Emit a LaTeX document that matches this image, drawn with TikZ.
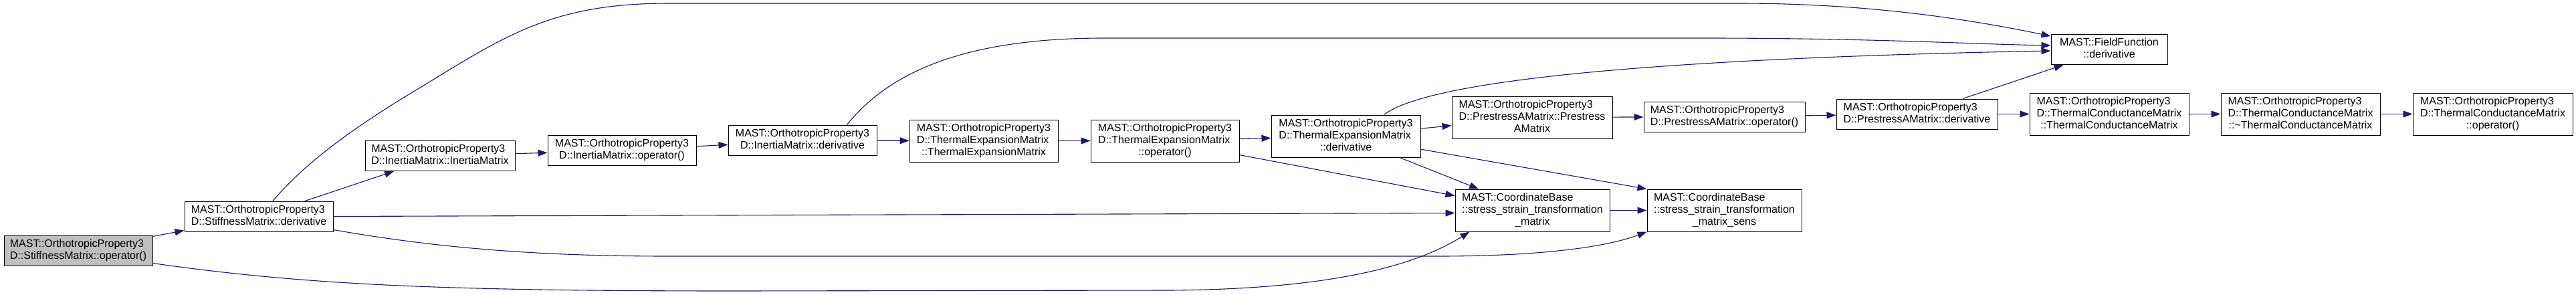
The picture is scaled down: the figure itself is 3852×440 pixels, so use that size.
\documentclass[tikz,border=0pt]{standalone}
\usepackage{fontspec}
\setmainfont{Liberation Sans}
\usetikzlibrary{arrows.meta}
\definecolor{EdgeBlue}{RGB}{25,25,112}
\definecolor{RootGray}{RGB}{191,191,191}
% all lines but the last flush left, last one centred
\newcommand{\fnlabel}[2]{\begin{tabular}{@{}l@{}}#1\\\multicolumn{1}{@{}c@{}}{#2}\end{tabular}}
\tikzset{
  fn/.style={draw=black, fill=white, line width=1pt, inner xsep=8pt, inner ysep=4.5pt,
             minimum height=45pt, font=\fontsize{16}{18}\selectfont},
  root/.style={fn, fill=RootGray},
  call/.style={draw=EdgeBlue, line width=1.1pt, -{Triangle[length=14pt,width=10pt]}}
}

\begin{document}
\begin{tikzpicture}[x=1pt, y=-1pt]
      \path[use as bounding box, fill=white] (0,0) rectangle (3852,440);

      % caller and first level
      \node[root, minimum width=222pt] (op) at (117,374.5)
            {\fnlabel{MAST::OrthotropicProperty3}{D::StiffnessMatrix::operator()}};
      \node[fn, minimum width=222pt] (smd) at (387,323.5)
            {\fnlabel{MAST::OrthotropicProperty3}{D::StiffnessMatrix::derivative}};

      % inertia matrix chain
      \node[fn, minimum width=224pt] (imc) at (658,233)
            {\fnlabel{MAST::OrthotropicProperty3}{D::InertiaMatrix::InertiaMatrix}};
      \node[fn, minimum width=222pt] (imo) at (930,225)
            {\fnlabel{MAST::OrthotropicProperty3}{D::InertiaMatrix::operator()}};
      \node[fn, minimum width=222pt] (imd) at (1200,210)
            {\fnlabel{MAST::OrthotropicProperty3}{D::InertiaMatrix::derivative}};

      % thermal expansion chain
      \node[fn, minimum width=222pt] (tec) at (1471,210.5)
            {\fnlabel{MAST::OrthotropicProperty3\\D::ThermalExpansionMatrix}{::ThermalExpansionMatrix}};
      \node[fn, minimum width=222pt] (teo) at (1742,210.5)
            {\fnlabel{MAST::OrthotropicProperty3\\D::ThermalExpansionMatrix}{::operator()}};
      \node[fn, minimum width=223pt] (ted) at (2012.5,203.5)
            {\fnlabel{MAST::OrthotropicProperty3\\D::ThermalExpansionMatrix}{::derivative}};

      % prestress chain
      \node[fn, minimum width=240pt] (pac) at (2291,175.5)
            {\fnlabel{MAST::OrthotropicProperty3\\D::PrestressAMatrix::Prestress}{AMatrix}};
      \node[fn, minimum width=241pt] (pao) at (2578.5,174.5)
            {\fnlabel{MAST::OrthotropicProperty3}{D::PrestressAMatrix::operator()}};
      \node[fn, minimum width=241pt] (pad) at (2866.5,170.5)
            {\fnlabel{MAST::OrthotropicProperty3}{D::PrestressAMatrix::derivative}};

      % field function
      \node[fn, minimum width=174pt] (ff) at (3154,74)
            {\fnlabel{MAST::FieldFunction}{::derivative}};

      % thermal conductance chain
      \node[fn, minimum width=238pt] (tcc) at (3154,170.5)
            {\fnlabel{MAST::OrthotropicProperty3\\D::ThermalConductanceMatrix}{::ThermalConductanceMatrix}};
      \node[fn, minimum width=238pt] (tcd) at (3440,170.5)
            {\fnlabel{MAST::OrthotropicProperty3\\D::ThermalConductanceMatrix}{::\textasciitilde ThermalConductanceMatrix}};
      \node[fn, minimum width=239pt] (tco) at (3727.5,170.5)
            {\fnlabel{MAST::OrthotropicProperty3\\D::ThermalConductanceMatrix}{::operator()}};

      % coordinate base
      \node[fn, minimum width=231pt] (cbm) at (2291.5,314.5)
            {\fnlabel{MAST::CoordinateBase\\::stress\_strain\_transformation}{\_matrix}};
      \node[fn, minimum width=231pt] (cbs) at (2578.5,314.5)
            {\fnlabel{MAST::CoordinateBase\\::stress\_strain\_transformation}{\_matrix\_sens}};

      % straight calls
      \draw[call] (op) -- (smd);
      \draw[call] (smd) -- (imc);
      \draw[call] (imc) -- (imo);
      \draw[call] (imo) -- (imd);
      \draw[call] (imd) -- (tec);
      \draw[call] (tec) -- (teo);
      \draw[call] (teo) -- (ted);
      \draw[call] (ted) -- (pac);
      \draw[call] (pac) -- (pao);
      \draw[call] (pao) -- (pad);
      \draw[call] (pad) -- (tcc);
      \draw[call] (tcc) -- (tcd);
      \draw[call] (tcd) -- (tco);
      \draw[call] (pad) -- (ff);
      \draw[call] (cbm) -- (cbs);
      \draw[call] (teo) -- (cbm);
      \draw[call] (ted) -- (cbm);
      \draw[call] (ted) -- (cbs.north west);
      \draw[call] (smd.east) -- ([yshift=-4pt]cbm.west);

      % long calls into the field function
      \draw[call] ([xshift=21pt]smd.north) .. controls (450,250) and (520,195) .. (630,130)
            .. controls (760,50) and (830,5) .. (1000,5) -- (2600,5)
            .. controls (2800,5) and (2950,30) .. ([yshift=20pt]ff.west);
      \draw[call] ([xshift=66pt]imd.north) .. controls (1320,120) and (1420,57) .. (1650,57)
            -- (2550,57) .. controls (2800,57) and (2950,66) .. ([yshift=6pt]ff.west);
      \draw[call] ([xshift=57pt]ted.north) .. controls (2150,110) and (2600,85) .. ([yshift=-2pt]ff.west);

      % long calls along the bottom
      \draw[call] ([yshift=-20pt]smd.east) .. controls (650,370) and (800,383) .. (1000,383)
            -- (2150,383) .. controls (2300,383) and (2400,370) .. (cbs.south west);
      \draw[call] ([yshift=-19pt]op.east) .. controls (450,425) and (650,435) .. (1100,435)
            -- (1750,434) .. controls (2000,432) and (2120,395) .. ([xshift=22pt]cbm.south west);

\end{tikzpicture}
\end{document}
